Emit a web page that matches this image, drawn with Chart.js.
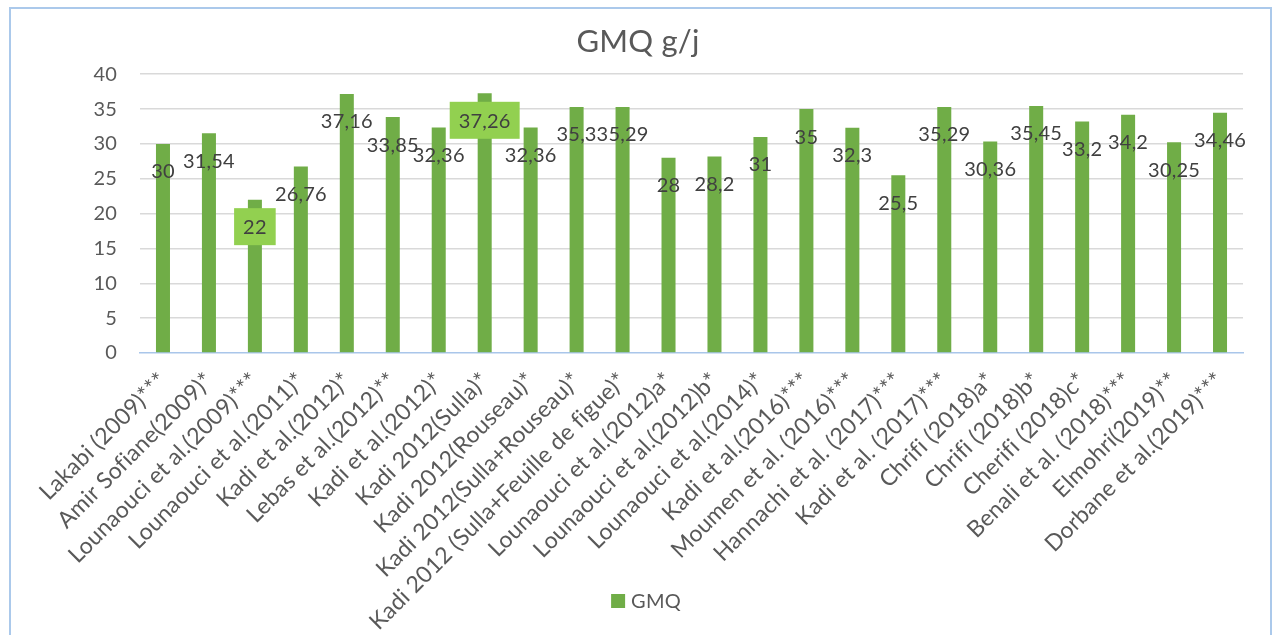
<!DOCTYPE html>
<html>
<head>
<meta charset="utf-8">
<script src="https://cdn.jsdelivr.net/npm/chart.js@4/dist/chart.umd.min.js"></script>
<style>
  html, body { margin: 0; padding: 0; background: #ffffff; }
  canvas { display: block; }
</style>
</head>
<body>
<canvas id="gmq" width="1276" height="635"></canvas>
<script>
// Studies (x axis) and their mean daily gain, GMQ in g/j
const categories = [
  'Lakabi (2009)***',
  'Amir Sofiane(2009)*',
  'Lounaouci et al.(2009)***',
  'Lounaouci et al.(2011)*',
  'Kadi et al.(2012)*',
  'Lebas et al.(2012)**',
  'Kadi et al.(2012)*',
  'Kadi 2012(Sulla)*',
  'Kadi 2012(Rouseau)*',
  'Kadi 2012(Sulla+Rouseau)*',
  'Kadi 2012 (Sulla+Feuille de figue)*',
  'Lounaouci et al.(2012)a*',
  'Lounaouci et al.(2012)b*',
  'Lounaouci et al.(2014)*',
  'Kadi et al.(2016)***',
  'Moumen et al. (2016)***',
  'Hannachi et al. (2017)***',
  'Kadi et al. (2017)***',
  'Chrifi (2018)a*',
  'Chrifi (2018)b*',
  'Cherifi (2018)c*',
  'Benali et al. (2018)***',
  'Elmohri(2019)**',
  'Dorbane et al.(2019)***'
];

const gmqValues = [
  30, 31.54, 22, 26.76, 37.16, 33.85, 32.36, 37.26, 32.36, 35.3, 35.29, 28,
  28.2, 31, 35, 32.3, 25.5, 35.29, 30.36, 35.45, 33.2, 34.2, 30.25, 34.46
];

const yTickValues = [0, 5, 10, 15, 20, 25, 30, 35, 40];

const seriesName = 'GMQ';
const chartTitle = 'GMQ g/j';

// Indexes of the value labels shown on a light green box
const boxedLabels = [2, 7];

const BAR_GREEN = '#70ad47';
const BOX_GREEN = '#92d050';
const TEXT_GREY = '#595959';
const FONT = 'Lato';

const formatValue = v => String(v).replace('.', ',');

// A tiny letter spacing keeps "fi" as two separate glyphs
const noLigatures = {
  id: 'noLigatures',
  beforeDraw(chart) {
    if ('letterSpacing' in chart.ctx) chart.ctx.letterSpacing = '0.2px';
  }
};

// Value labels just inside the top of every bar
const valueLabels = {
  id: 'valueLabels',
  afterDatasetsDraw(chart) {
    const ctx = chart.ctx;
    const meta = chart.getDatasetMeta(0);
    ctx.save();
    ctx.font = '20px ' + FONT;
    ctx.textAlign = 'center';
    ctx.textBaseline = 'middle';
    meta.data.forEach((bar, i) => {
      const text = formatValue(gmqValues[i]);
      const x = bar.x;
      const y = bar.y + 27;
      if (boxedLabels.includes(i)) {
        const w = ctx.measureText(text).width + 18;
        ctx.fillStyle = BOX_GREEN;
        ctx.fillRect(x - w / 2, y - 18.5, w, 37);
      }
      ctx.fillStyle = '#404040';
      ctx.fillText(text, x, y + 1);
    });
    ctx.restore();
  }
};

// Chart frame and the bottom legend
const frameAndLegend = {
  id: 'frameAndLegend',
  afterDraw(chart) {
    const ctx = chart.ctx;
    ctx.save();
    // frame: left, top and right edges
    ctx.strokeStyle = '#abc9eb';
    ctx.lineWidth = 2;
    ctx.beginPath();
    ctx.moveTo(10, 640);
    ctx.lineTo(10, 8);
    ctx.lineTo(1271, 8);
    ctx.lineTo(1271, 640);
    ctx.stroke();

    // legend
    ctx.font = '20px ' + FONT;
    const tw = ctx.measureText(seriesName).width;
    const total = 14 + 6 + tw;
    const left = 646 - total / 2;
    const cy = 601;
    ctx.fillStyle = BAR_GREEN;
    ctx.fillRect(left, cy - 7, 14, 14);
    ctx.fillStyle = TEXT_GREY;
    ctx.textAlign = 'left';
    ctx.textBaseline = 'middle';
    ctx.fillText(seriesName, left + 20, cy + 1);
    ctx.restore();
  }
};

function draw() {
  new Chart(document.getElementById('gmq'), {
    type: 'bar',
    data: {
      labels: categories,
      datasets: [{
        label: seriesName,
        data: gmqValues,
        backgroundColor: BAR_GREEN,
        borderWidth: 0,
        categoryPercentage: 1,
        barPercentage: 0.305
      }]
    },
    options: {
      responsive: false,
      animation: false,
      devicePixelRatio: 1,
      layout: { padding: { left: 33, right: 33, top: 0, bottom: 0 } },
      plugins: {
        legend: { display: false },
        tooltip: { enabled: false },
        title: {
          display: true,
          text: chartTitle,
          color: TEXT_GREY,
          font: { family: FONT, size: 31, weight: 'normal', lineHeight: 1.2 },
          padding: { top: 23, bottom: 14 }
        }
      },
      scales: {
        x: {
          offset: true,
          afterFit: s => { s.height = 282; },
          grid: { display: false, drawTicks: false },
          border: { display: true, color: '#a9c6ea', width: 1.5 },
          ticks: {
            autoSkip: false,
            minRotation: 45,
            maxRotation: 45,
            padding: 14,
            color: TEXT_GREY,
            font: { family: FONT, size: 23 }
          }
        },
        y: {
          min: 0,
          max: 40,
          afterBuildTicks: s => { s.ticks = yTickValues.map(v => ({ value: v })); },
          afterFit: s => { s.width = 107; },
          border: { display: false },
          grid: {
            drawTicks: false,
            lineWidth: 1.5,
            color: c => (c.tick && c.tick.value === 0) ? 'rgba(0,0,0,0)' : '#d9d9d9'
          },
          ticks: {
            padding: 23,
            color: TEXT_GREY,
            font: { family: FONT, size: 20 }
          }
        }
      }
    },
    plugins: [noLigatures, valueLabels, frameAndLegend]
  });
}

if (document.fonts && document.fonts.load) {
  Promise.all([
    document.fonts.load('20px ' + FONT),
    document.fonts.load('23px ' + FONT),
    document.fonts.load('31px ' + FONT)
  ]).then(draw, draw);
} else {
  draw();
}
</script>
</body>
</html>
